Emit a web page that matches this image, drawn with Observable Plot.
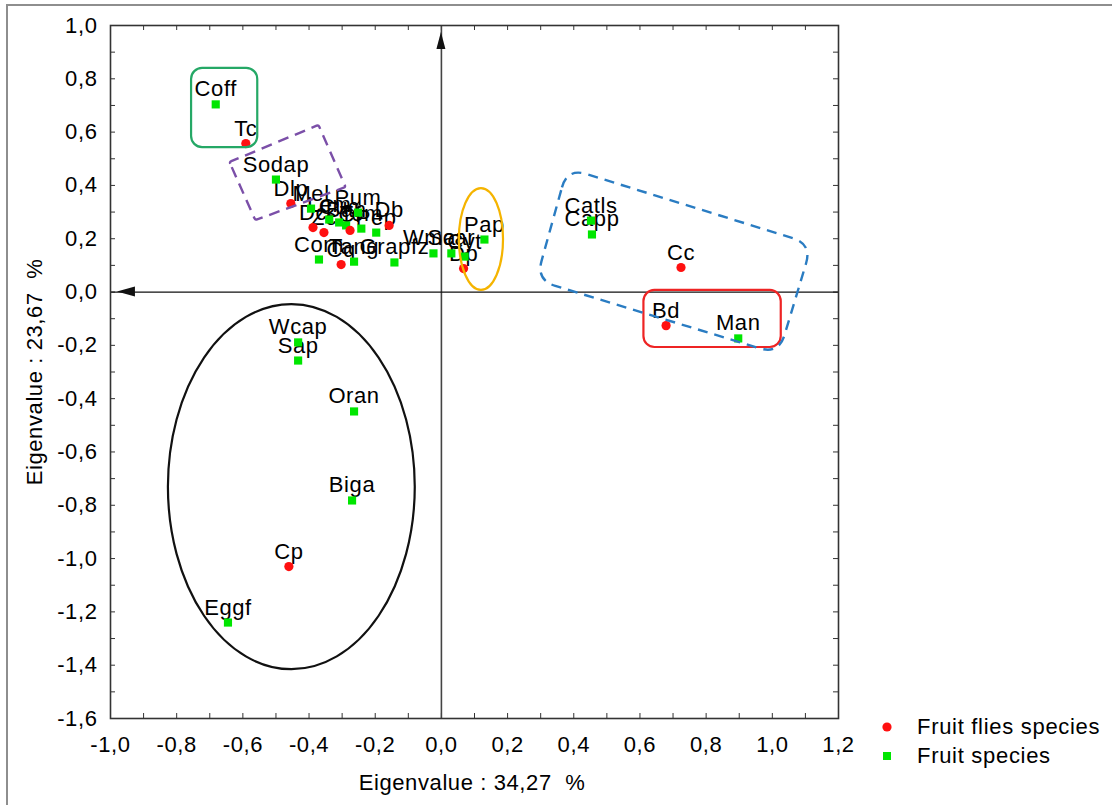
<!DOCTYPE html>
<html><head><meta charset="utf-8">
<script src="https://cdn.jsdelivr.net/npm/d3@7"></script>
<script src="https://cdn.jsdelivr.net/npm/@observablehq/plot@0.6"></script>
<style>
html,body{margin:0;padding:0;background:#fff;}
#wrap{position:relative;width:1112px;height:805px;overflow:hidden;font-family:"Liberation Sans",Arial,sans-serif;color:#000;}
#border{position:absolute;left:6px;top:4px;width:1200px;height:900px;border:2px solid #8e8e8e;box-sizing:border-box;}
.ttl{position:absolute;font-size:22px;letter-spacing:0.6px;white-space:pre;}
#xt{left:472px;top:770px;transform:translateX(-50%);}
#yt{left:35px;top:372px;transform:translate(-50%,-50%) rotate(-90deg);}
#legend{position:absolute;left:875px;top:712px;font-size:22px;letter-spacing:0.7px;}
#legend .it{display:flex;align-items:center;height:29px;white-space:nowrap;}
#legend .sw{width:24px;display:flex;justify-content:center;align-items:center;margin-right:18px;}
</style></head><body><div id="wrap"><div id="border"></div></div>
<script>
// ---- data ----
const fruitNames = ["Coff","Sodap","Mel","Lem","Cuc","Pum","Ban","Tom","Pep","Corn","Tang","Grapfz","Wmar","Scar","Cyt","Pap","Catls","Capp","Man","Wcap","Sap","Oran","Biga","Eggf"];
const fruitX = [-0.682,-0.500,-0.394,-0.339,-0.309,-0.252,-0.288,-0.242,-0.197,-0.370,-0.264,-0.142,-0.024,0.030,0.070,0.130,0.452,0.455,0.897,-0.433,-0.433,-0.264,-0.270,-0.645];
const fruitY = [0.704,0.422,0.313,0.272,0.261,0.298,0.250,0.238,0.223,0.122,0.114,0.111,0.145,0.145,0.133,0.197,0.268,0.216,-0.174,-0.189,-0.257,-0.448,-0.782,-1.240];
const flyNames = ["Tc","Dlp","Dc","Zc","Cf","Db","Cq","Dp","Cc","Bd","Cp"];
const flyX = [-0.591,-0.455,-0.388,-0.355,-0.276,-0.158,-0.303,0.067,0.724,0.679,-0.461];
const flyY = [0.557,0.332,0.242,0.223,0.231,0.250,0.103,0.088,0.092,-0.126,-1.030];
const xTicks = [-1.0,-0.8,-0.6,-0.4,-0.2,0.0,0.2,0.4,0.6,0.8,1.0,1.2];
const yTicks = [1.0,0.8,0.6,0.4,0.2,0.0,-0.2,-0.4,-0.6,-0.8,-1.0,-1.2,-1.4,-1.6];
const xMinor = [-0.9,-0.8,-0.7,-0.6,-0.5,-0.4,-0.3,-0.2,-0.1,0.0,0.1,0.2,0.3,0.4,0.5,0.6,0.7,0.8,0.9,1.0,1.1];
const yMinor = [0.9,0.8,0.7,0.6,0.5,0.4,0.3,0.2,0.1,0.0,-0.1,-0.2,-0.3,-0.4,-0.5,-0.6,-0.7,-0.8,-0.9,-1.0,-1.1,-1.2,-1.3,-1.4,-1.5];
const xTitle = "Eigenvalue : 34,27  %";
const yTitle = "Eigenvalue : 23,67  %";
const seriesNames = ["Fruit flies species","Fruit species"];
// annotation groups (data coordinates)
const groupRects = [
  {x1:-0.755, x2:-0.555, y1:0.542, y2:0.839, color:"#25a866"},
  {x1:0.612, x2:1.027, y1:-0.208, y2:0.006, color:"#ee2424"}
];
const groupEllipses = [
  {cx:-0.452, cy:-0.732, rx:0.373, ry:0.685, color:"#111"},
  {cx:0.121, cy:0.197, rx:0.0667, ry:0.191, color:"#f5b400"}
];
const groupPolys = [
  {pts:[[-0.639,0.486],[-0.370,0.625],[-0.288,0.392],[-0.561,0.268]], color:"#7b4fa8", dash:"11,7", r:2},
  {pts:[[0.382,0.463],[1.121,0.178],[1.021,-0.235],[0.288,0.043]], color:"#2a7cc2", dash:"10,7", r:20}
];

const fruits = fruitNames.map((n,i)=>({name:n, x:fruitX[i], y:fruitY[i]}));
const flies = flyNames.map((n,i)=>({name:n, x:flyX[i], y:flyY[i]}));
const all = fruits.concat(flies);
const fmt = d => (Math.round(d*10)/10).toFixed(1).replace(".", ",").replace("-0,0","0,0");

const W=1112, H=805, mL=110, mR=274, mT=25, mB=87;
const fw = W-mL-mR, fh = H-mT-mB;

const plot = Plot.plot({
  width:W, height:H, marginLeft:mL, marginRight:mR, marginTop:mT, marginBottom:mB,
  style:{fontFamily:"Liberation Sans, Arial, sans-serif", fontSize:"22px", background:"transparent", color:"#000", overflow:"visible"},
  x:{domain:[-1,1.2]},
  y:{domain:[-1.6,1.0]},
  marks:[
    Plot.axisX({ticks:xTicks, tickSize:0, tickPadding:18, tickFormat:fmt, label:null, fontSize:22, fill:"#000"}),
    Plot.axisY({ticks:yTicks, tickSize:0, tickPadding:13, tickFormat:fmt, label:null, fontSize:22, fill:"#000"}),
    Plot.tickX(xMinor, {x:d=>d, insetTop:fh-5, stroke:"#333"}),
    Plot.tickX(xMinor, {x:d=>d, insetBottom:fh-5, stroke:"#333"}),
    Plot.tickY(yMinor, {y:d=>d, insetRight:fw-5, stroke:"#333"}),
    Plot.tickY(yMinor, {y:d=>d, insetLeft:fw-5, stroke:"#333"}),
    Plot.ruleX([0], {stroke:"#444", strokeWidth:1.6}),
    Plot.ruleY([0], {stroke:"#111", strokeWidth:1.2}),
    Plot.frame({stroke:"#333", strokeWidth:1.6}),
    Plot.text(all, {x:"x", y:"y", text:"name", dy:-8, lineAnchor:"bottom", textAnchor:"middle", fontSize:22, fill:"#000"}),
    Plot.dot(fruits, {x:"x", y:"y", symbol:"square", r:4.6, fill:"#00e600", stroke:"none"}),
    Plot.dot(flies, {x:"x", y:"y", symbol:"circle", r:4.6, fill:"#ff1010", stroke:"none"})
  ]
});

const wrap = document.getElementById("wrap");
wrap.appendChild(plot);
const svgEl = plot.tagName.toLowerCase()==="svg" ? plot : plot.querySelector("svg");
svgEl.style.position="absolute"; svgEl.style.left="0"; svgEl.style.top="0";
svgEl.querySelectorAll("text").forEach(t=>t.style.letterSpacing="0.6px");

const sx = plot.scale("x"), sy = plot.scale("y");
const X = d3.scaleLinear(sx.domain, sx.range), Y = d3.scaleLinear(sy.domain, sy.range);
const svg = d3.select(svgEl);
const g = svg.append("g").attr("fill","none");

function roundedPath(pts, r){
  const n=pts.length; let d="";
  for(let i=0;i<n;i++){
    const p0=pts[(i-1+n)%n], p=pts[i], p1=pts[(i+1)%n];
    const v0=[p0[0]-p[0],p0[1]-p[1]], v1=[p1[0]-p[0],p1[1]-p[1]];
    const l0=Math.hypot(v0[0],v0[1]), l1=Math.hypot(v1[0],v1[1]);
    const a=[p[0]+v0[0]/l0*r, p[1]+v0[1]/l0*r], b=[p[0]+v1[0]/l1*r, p[1]+v1[1]/l1*r];
    d += (i===0?"M":"L")+a[0]+","+a[1]+"Q"+p[0]+","+p[1]+" "+b[0]+","+b[1];
  }
  return d+"Z";
}
groupRects.forEach(r=>{
  g.append("rect").attr("x",X(r.x1)).attr("y",Y(r.y2)).attr("width",X(r.x2)-X(r.x1)).attr("height",Y(r.y1)-Y(r.y2))
   .attr("rx",11).attr("stroke",r.color).attr("stroke-width",2.2);
});
groupEllipses.forEach(e=>{
  g.append("ellipse").attr("cx",X(e.cx)).attr("cy",Y(e.cy)).attr("rx",X(e.cx+e.rx)-X(e.cx)).attr("ry",Y(e.cy-e.ry)-Y(e.cy))
   .attr("stroke",e.color).attr("stroke-width",2.2);
});
groupPolys.forEach(p=>{
  g.append("path").attr("d",roundedPath(p.pts.map(q=>[X(q[0]),Y(q[1])]), p.r))
   .attr("stroke",p.color).attr("stroke-width",2.4).attr("stroke-dasharray",p.dash);
});
// arrow heads on the crosshair
const ax = X(0), ay = Y(0);
const topTip = Y(0.974), leftTip = X(-0.979);
g.append("path").attr("d",`M${ax},${topTip}L${ax-4.5},${topTip+17}L${ax+4.5},${topTip+17}Z`).attr("fill","#111");
g.append("path").attr("d",`M${leftTip},${ay}L${leftTip+18},${ay-5}L${leftTip+18},${ay+5}Z`).attr("fill","#111");

// titles
const xt = document.createElement("div"); xt.className="ttl"; xt.id="xt"; xt.textContent=xTitle; wrap.appendChild(xt);
const yt = document.createElement("div"); yt.className="ttl"; yt.id="yt"; yt.textContent=yTitle; wrap.appendChild(yt);
// legend
const lg = document.createElement("div"); lg.id="legend";
const swatches = [
  '<svg width="12" height="12"><circle cx="6" cy="6" r="4.6" fill="#ff1010"/></svg>',
  '<svg width="12" height="12"><rect x="2" y="2" width="8" height="8" fill="#00e600"/></svg>'
];
seriesNames.forEach((n,i)=>{
  const it=document.createElement("div"); it.className="it";
  it.innerHTML='<span class="sw">'+swatches[i]+'</span><span></span>';
  it.lastChild.textContent=n; lg.appendChild(it);
});
wrap.appendChild(lg);
</script></body></html>
